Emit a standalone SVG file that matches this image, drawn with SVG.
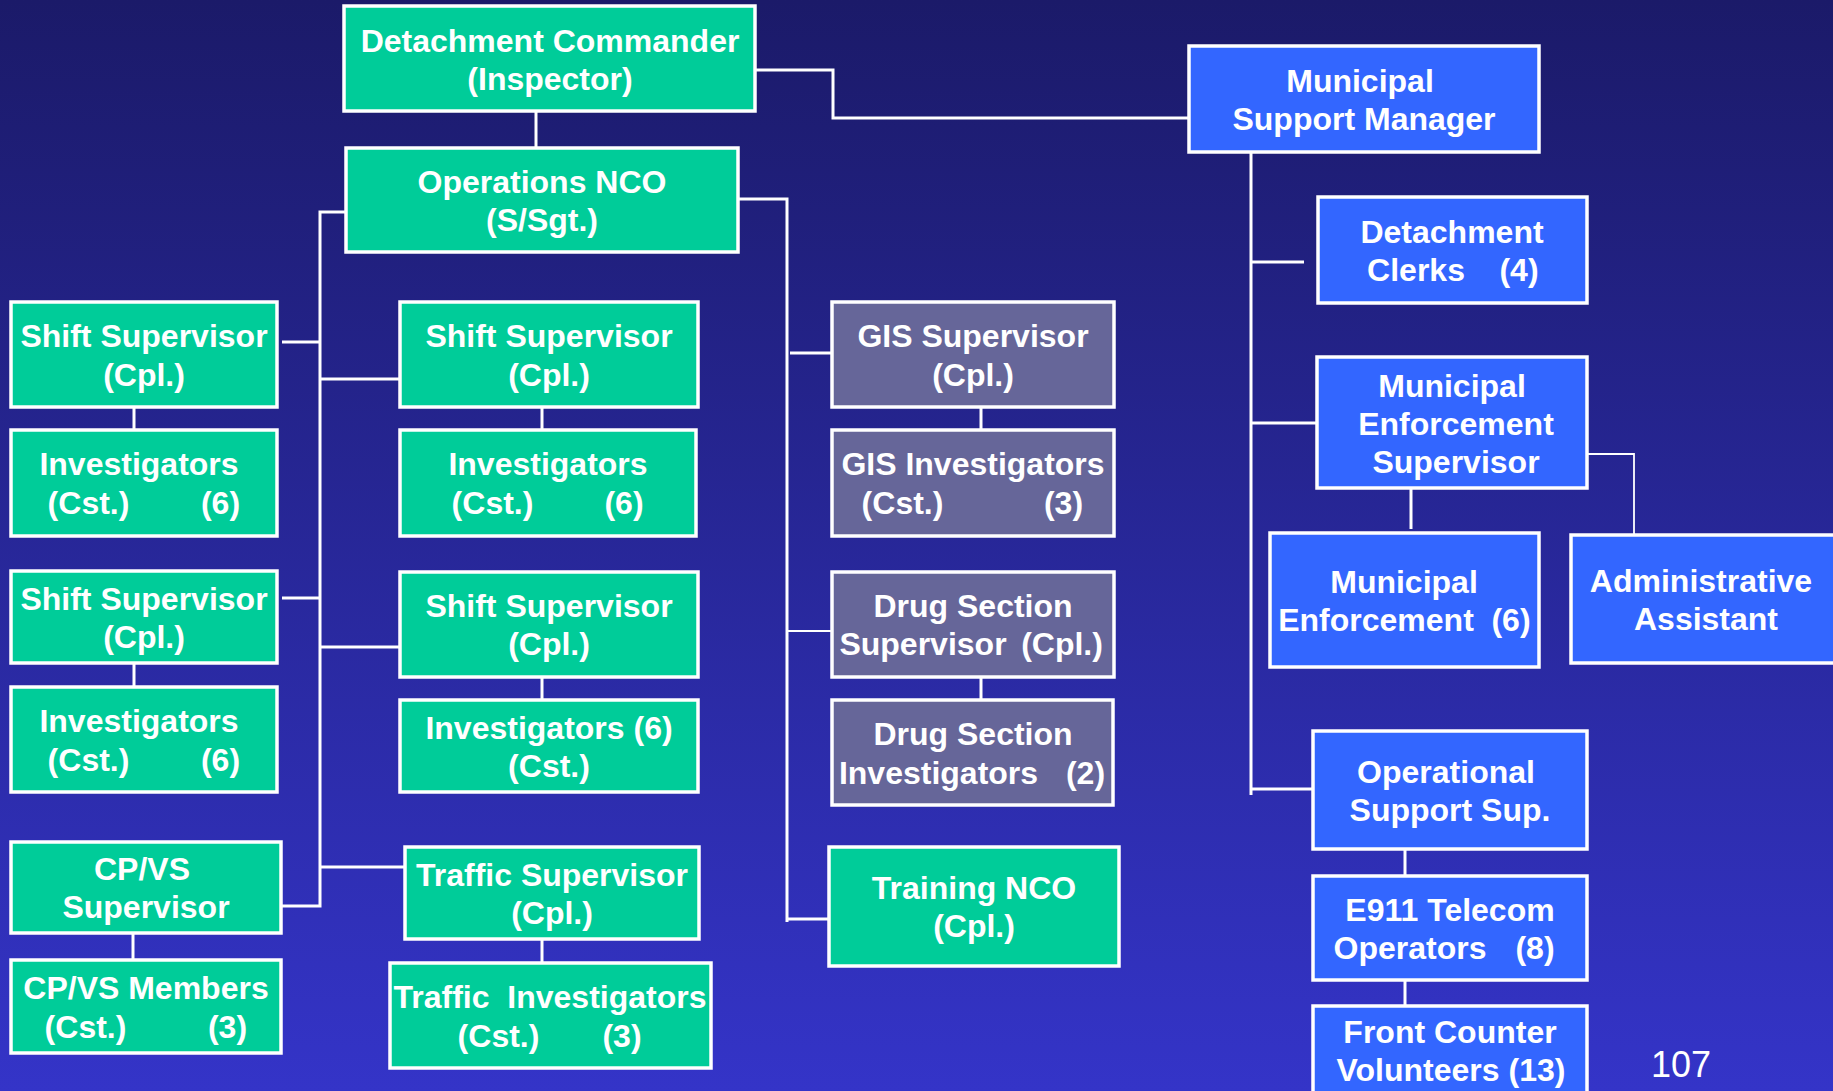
<svg xmlns="http://www.w3.org/2000/svg" width="1833" height="1091" viewBox="0 0 1833 1091">
  <defs>
    <linearGradient id="bg" x1="0" y1="0" x2="0" y2="1">
      <stop offset="0" stop-color="#1b1a69"/>
      <stop offset="1" stop-color="#3434c8"/>
    </linearGradient>
  </defs>
  <style>
    .box { stroke: #ffffff; stroke-width: 3.5; }
    .green { fill: #00cc99; }
    .grey { fill: #666699; }
    .blue { fill: #3366ff; }
    .lbl { font-family: "Liberation Sans", Arial, sans-serif; font-weight: bold; font-size: 32px; fill: #ffffff; text-anchor: middle; }
    .link { stroke: #ffffff; stroke-width: 3; fill: none; }
    .thin { stroke: #ffffff; stroke-width: 1.8; fill: none; }
    .page { font-family: "Liberation Sans", Arial, sans-serif; font-size: 36px; fill: #ffffff; text-anchor: middle; }
  </style>

  <rect x="0" y="0" width="1833" height="1091" fill="url(#bg)"/>

  <!-- connectors -->
  <g id="connectors">
    <polyline class="link" points="755,70 833,70 833,118 1189,118"/>
    <line class="link" x1="536" y1="111" x2="536" y2="148"/>
    <polyline class="link" points="346,212 320,212 320,906 281,906"/>
    <line class="link" x1="282" y1="342" x2="320" y2="342"/>
    <line class="link" x1="282" y1="598" x2="320" y2="598"/>
    <line class="link" x1="320" y1="379" x2="400" y2="379"/>
    <line class="link" x1="320" y1="647" x2="400" y2="647"/>
    <line class="link" x1="320" y1="867" x2="405" y2="867"/>
    <polyline class="link" points="738,199 787,199 787,922"/>
    <line class="link" x1="787" y1="919" x2="829" y2="919"/>
    <line class="link" x1="790" y1="353" x2="832" y2="353"/>
    <line class="thin" x1="787" y1="631" x2="832" y2="631"/>
    <line class="link" x1="134" y1="407" x2="134" y2="430"/>
    <line class="link" x1="134" y1="663" x2="134" y2="687"/>
    <line class="link" x1="133" y1="933" x2="133" y2="960"/>
    <line class="link" x1="542" y1="407" x2="542" y2="430"/>
    <line class="link" x1="542" y1="677" x2="542" y2="700"/>
    <line class="link" x1="542" y1="939" x2="542" y2="963"/>
    <line class="link" x1="981" y1="407" x2="981" y2="430"/>
    <line class="link" x1="981" y1="677" x2="981" y2="700"/>
    <line class="link" x1="1251" y1="152" x2="1251" y2="795"/>
    <line class="link" x1="1251" y1="262" x2="1304" y2="262"/>
    <line class="link" x1="1251" y1="423" x2="1317" y2="423"/>
    <line class="link" x1="1251" y1="789" x2="1313" y2="789"/>
    <line class="link" x1="1411" y1="488" x2="1411" y2="529"/>
    <polyline class="thin" points="1556,454 1634,454 1634,535"/>
    <line class="link" x1="1405" y1="849" x2="1405" y2="876"/>
    <line class="link" x1="1405" y1="980" x2="1405" y2="1006"/>
  </g>

  <!-- command -->
  <g id="detachment-commander">
    <rect class="box green" x="344" y="6" width="411" height="105"/>
    <text class="lbl" x="550" y="52">Detachment Commander</text>
    <text class="lbl" x="550" y="90">(Inspector)</text>
  </g>
  <g id="operations-nco">
    <rect class="box green" x="346" y="148" width="392" height="104"/>
    <text class="lbl" x="542" y="193">Operations NCO</text>
    <text class="lbl" x="542" y="231">(S/Sgt.)</text>
  </g>

  <!-- left column -->
  <g id="shift-supervisor-1">
    <rect class="box green" x="11" y="302" width="266" height="105"/>
    <text class="lbl" x="144" y="347">Shift Supervisor</text>
    <text class="lbl" x="144" y="386">(Cpl.)</text>
  </g>
  <g id="investigators-1">
    <rect class="box green" x="11" y="430" width="266" height="106"/>
    <text class="lbl" x="139" y="475">Investigators</text>
    <text class="lbl" y="514"><tspan x="88.5">(Cst.)</tspan><tspan x="220.5">(6)</tspan></text>
  </g>
  <g id="shift-supervisor-2">
    <rect class="box green" x="11" y="571" width="266" height="92"/>
    <text class="lbl" x="144" y="610">Shift Supervisor</text>
    <text class="lbl" x="144" y="648">(Cpl.)</text>
  </g>
  <g id="investigators-2">
    <rect class="box green" x="11" y="687" width="266" height="105"/>
    <text class="lbl" x="139" y="732">Investigators</text>
    <text class="lbl" y="771"><tspan x="88.5">(Cst.)</tspan><tspan x="220.5">(6)</tspan></text>
  </g>
  <g id="cpvs-supervisor">
    <rect class="box green" x="11" y="842" width="270" height="91"/>
    <text class="lbl" x="142" y="880">CP/VS</text>
    <text class="lbl" x="146" y="918">Supervisor</text>
  </g>
  <g id="cpvs-members">
    <rect class="box green" x="11" y="960" width="270" height="93"/>
    <text class="lbl" x="146" y="999">CP/VS Members</text>
    <text class="lbl" y="1038"><tspan x="85.5">(Cst.)</tspan><tspan x="227.5">(3)</tspan></text>
  </g>

  <!-- middle column -->
  <g id="shift-supervisor-3">
    <rect class="box green" x="400" y="302" width="298" height="105"/>
    <text class="lbl" x="549" y="347">Shift Supervisor</text>
    <text class="lbl" x="549" y="386">(Cpl.)</text>
  </g>
  <g id="investigators-3">
    <rect class="box green" x="400" y="430" width="296" height="106"/>
    <text class="lbl" x="548" y="475">Investigators</text>
    <text class="lbl" y="514"><tspan x="492.5">(Cst.)</tspan><tspan x="624">(6)</tspan></text>
  </g>
  <g id="shift-supervisor-4">
    <rect class="box green" x="400" y="572" width="298" height="105"/>
    <text class="lbl" x="549" y="617">Shift Supervisor</text>
    <text class="lbl" x="549" y="655">(Cpl.)</text>
  </g>
  <g id="investigators-4">
    <rect class="box green" x="400" y="700" width="298" height="92"/>
    <text class="lbl" x="549" y="739">Investigators (6)</text>
    <text class="lbl" x="549" y="777">(Cst.)</text>
  </g>
  <g id="traffic-supervisor">
    <rect class="box green" x="405" y="847" width="294" height="92"/>
    <text class="lbl" x="552" y="886">Traffic Supervisor</text>
    <text class="lbl" x="552" y="924">(Cpl.)</text>
  </g>
  <g id="traffic-investigators">
    <rect class="box green" x="390" y="963" width="321" height="105"/>
    <text class="lbl" x="550" y="1008" xml:space="preserve">Traffic  Investigators</text>
    <text class="lbl" y="1047"><tspan x="498.5">(Cst.)</tspan><tspan x="622">(3)</tspan></text>
  </g>

  <!-- specialist column -->
  <g id="gis-supervisor">
    <rect class="box grey" x="832" y="302" width="282" height="105"/>
    <text class="lbl" x="973" y="347">GIS Supervisor</text>
    <text class="lbl" x="973" y="386">(Cpl.)</text>
  </g>
  <g id="gis-investigators">
    <rect class="box grey" x="832" y="430" width="282" height="106"/>
    <text class="lbl" x="973" y="475">GIS Investigators</text>
    <text class="lbl" y="514"><tspan x="902.5">(Cst.)</tspan><tspan x="1063.5">(3)</tspan></text>
  </g>
  <g id="drug-section-supervisor">
    <rect class="box grey" x="832" y="572" width="282" height="105"/>
    <text class="lbl" x="973" y="617">Drug Section</text>
    <text class="lbl" y="655"><tspan x="923">Supervisor</tspan><tspan x="1062">(Cpl.)</tspan></text>
  </g>
  <g id="drug-section-investigators">
    <rect class="box grey" x="832" y="700" width="281" height="105"/>
    <text class="lbl" x="973" y="745">Drug Section</text>
    <text class="lbl" y="784"><tspan x="938.5">Investigators</tspan><tspan x="1085.5">(2)</tspan></text>
  </g>
  <g id="training-nco">
    <rect class="box green" x="829" y="847" width="290" height="119"/>
    <text class="lbl" x="974" y="899">Training NCO</text>
    <text class="lbl" x="974" y="937">(Cpl.)</text>
  </g>

  <!-- municipal support -->
  <g id="municipal-support-manager">
    <rect class="box blue" x="1189" y="46" width="350" height="106"/>
    <text class="lbl" x="1360" y="92">Municipal</text>
    <text class="lbl" x="1364" y="130">Support Manager</text>
  </g>
  <g id="detachment-clerks">
    <rect class="box blue" x="1318" y="197" width="269" height="106"/>
    <text class="lbl" x="1452" y="243">Detachment</text>
    <text class="lbl" y="281"><tspan x="1416">Clerks</tspan><tspan x="1519">(4)</tspan></text>
  </g>
  <g id="municipal-enforcement-supervisor">
    <rect class="box blue" x="1317" y="357" width="270" height="131"/>
    <text class="lbl" x="1452" y="397">Municipal</text>
    <text class="lbl" x="1456" y="435">Enforcement</text>
    <text class="lbl" x="1456" y="473">Supervisor</text>
  </g>
  <g id="municipal-enforcement">
    <rect class="box blue" x="1270" y="533" width="269" height="134"/>
    <text class="lbl" x="1404" y="593">Municipal</text>
    <text class="lbl" y="631"><tspan x="1376">Enforcement</tspan><tspan x="1511">(6)</tspan></text>
  </g>
  <g id="administrative-assistant">
    <rect class="box blue" x="1571" y="535" width="270" height="128"/>
    <text class="lbl" x="1701" y="592">Administrative</text>
    <text class="lbl" x="1706" y="630">Assistant</text>
  </g>
  <g id="operational-support-sup">
    <rect class="box blue" x="1313" y="731" width="274" height="118"/>
    <text class="lbl" x="1446" y="783">Operational</text>
    <text class="lbl" x="1450" y="821">Support Sup.</text>
  </g>
  <g id="e911-telecom-operators">
    <rect class="box blue" x="1313" y="876" width="274" height="104"/>
    <text class="lbl" x="1450" y="921">E911 Telecom</text>
    <text class="lbl" y="959"><tspan x="1410">Operators</tspan><tspan x="1535">(8)</tspan></text>
  </g>
  <g id="front-counter-volunteers">
    <rect class="box blue" x="1313" y="1006" width="274" height="100"/>
    <text class="lbl" x="1450" y="1043">Front Counter</text>
    <text class="lbl" x="1451" y="1081">Volunteers (13)</text>
  </g>

  <text class="page" x="1681" y="1077">107</text>
</svg>
